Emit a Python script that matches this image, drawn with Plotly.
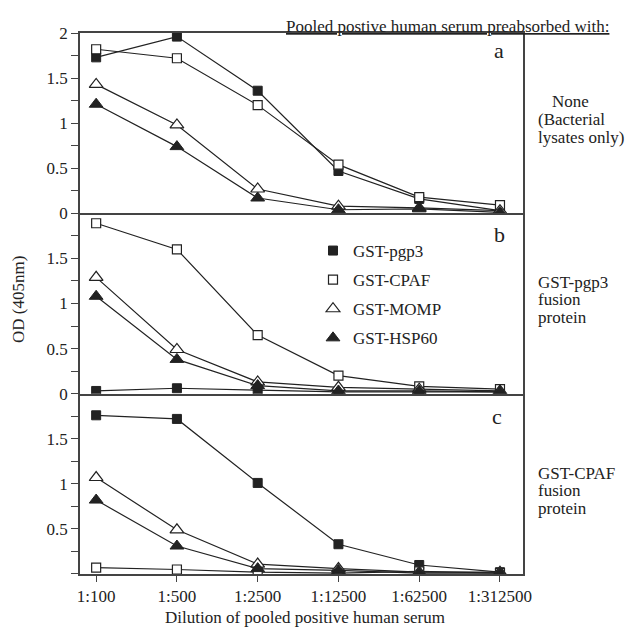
import plotly.graph_objects as go
from plotly.subplots import make_subplots

dilutions = ["1:100", "1:500", "1:2500", "1:12500", "1:62500", "1:312500"]
series_names = ["GST-pgp3", "GST-CPAF", "GST-MOMP", "GST-HSP60"]

# Panel a: none (bacterial lysates only)
a_pgp3 = [1.73, 1.96, 1.36, 0.47, 0.16, 0.03]
a_cpaf = [1.82, 1.72, 1.20, 0.54, 0.18, 0.09]
a_momp = [1.43, 0.98, 0.27, 0.08, 0.06, 0.03]
a_hsp60 = [1.21, 0.74, 0.17, 0.04, 0.05, 0.01]

# Panel b: GST-pgp3 fusion protein
b_pgp3 = [0.03, 0.06, 0.04, 0.02, 0.02, 0.02]
b_cpaf = [1.89, 1.60, 0.65, 0.20, 0.08, 0.05]
b_momp = [1.29, 0.49, 0.13, 0.07, 0.05, 0.03]
b_hsp60 = [1.08, 0.38, 0.09, 0.03, 0.03, 0.02]

# Panel c: GST-CPAF fusion protein
c_pgp3 = [1.76, 1.72, 1.01, 0.33, 0.10, 0.02]
c_cpaf = [0.07, 0.05, 0.02, 0.01, 0.03, 0.01]
c_momp = [1.07, 0.49, 0.11, 0.06, 0.02, 0.02]
c_hsp60 = [0.82, 0.31, 0.06, 0.04, 0.01, 0.01]

panels = [
    [a_pgp3, a_cpaf, a_momp, a_hsp60],
    [b_pgp3, b_cpaf, b_momp, b_hsp60],
    [c_pgp3, c_cpaf, c_momp, c_hsp60],
]

FONT = "Liberation Serif"
INK = "#222222"
AX = "#444444"

styles = [
    dict(symbol="square", size=9, color=INK, line=dict(color=INK, width=1)),
    dict(symbol="square", size=9, color="white", line=dict(color=INK, width=1.2)),
    dict(symbol="triangle-up", size=12, color="white", line=dict(color=INK, width=1.2)),
    dict(symbol="triangle-up", size=12, color=INK, line=dict(color=INK, width=1)),
]

fig = make_subplots(rows=3, cols=1, shared_xaxes=True, vertical_spacing=0)

for r, data in enumerate(panels, start=1):
    for name, vals, st in zip(series_names, data, styles):
        fig.add_trace(go.Scatter(
            x=dilutions, y=vals, mode="lines+markers", name=name,
            line=dict(color=INK, width=1.2), marker=st, showlegend=False,
        ), row=r, col=1)

# legend-only entries (markers without lines)
for i, (name, st) in enumerate(zip(series_names, styles)):
    fig.add_trace(go.Scatter(x=[None], y=[None], mode="markers", name=name,
                             marker=st, showlegend=True, legendgroup=f"g{i}"),
                  row=2, col=1)

tick_vals = [0, 0.25, 0.5, 0.75, 1, 1.25, 1.5, 1.75, 2]
tick_text = [
    ["0", "", "0.5", "", "1", "", "1.5", "", "2"],
    ["0", "", "0.5", "", "1", "", "1.5", "", ""],
    ["", "", "0.5", "", "1", "", "1.5", "", ""],
]

for r in range(1, 4):
    fig.update_yaxes(range=[0, 2], tickvals=tick_vals, ticktext=tick_text[r - 1],
                     ticks="outside", ticklen=7, tickcolor=AX, tickwidth=1.2,
                     showline=True, linecolor=AX, linewidth=1.5, mirror=True,
                     showgrid=False, zeroline=False,
                     tickfont=dict(family=FONT, size=17, color=INK), row=r, col=1)
    fig.update_xaxes(range=[-0.2, 5.285], showline=True, linecolor=AX, linewidth=1.5,
                     mirror=(r == 1), showgrid=False, zeroline=False,
                     ticks="outside" if r == 3 else "", ticklen=6, tickcolor=AX,
                     tickwidth=1.2, showticklabels=(r == 3),
                     tickfont=dict(family=FONT, size=17, color=INK), row=r, col=1)

L, R, T, B = 80, 103, 33, 54
W, H = 626, 628
pw, ph = W - L - R, H - T - B

def px(x):
    return (x - L) / pw

def py(y):
    return (H - B - y) / ph

ann = []
def text(s, x, y, size=17, xanchor="left", **kw):
    ann.append(dict(text=s, x=px(x), y=py(y), xref="paper", yref="paper",
                    xanchor=xanchor, yanchor="middle", showarrow=False,
                    font=dict(family=FONT, size=size, color=INK), **kw))

text("<u>Pooled postive human serum preabsorbed with:</u>", 611, 26, size=17, xanchor="right")
text("a", 499, 51, size=22, xanchor="center")
text("b", 499, 234, size=22, xanchor="center")
text("c", 497, 416, size=22, xanchor="center")

text("None", 570, 102, size=17, xanchor="center")
text("(Bacterial", 536, 119.5, size=17)
text("lysates only)", 536, 137, size=17)

text("GST-pgp3", 536, 282, size=17)
text("fusion", 536, 299.5, size=17)
text("protein", 536, 317, size=17)

text("GST-CPAF", 536, 473, size=17)
text("fusion", 536, 490.5, size=17)
text("protein", 536, 508, size=17)

text("Dilution of pooled positive human serum", 305, 617, size=17, xanchor="center")
text("OD (405nm)", 18, 300, size=17, xanchor="center", textangle=-90)

fig.update_layout(
    width=W, height=H,
    margin=dict(l=L, r=R, t=T, b=B),
    paper_bgcolor="white", plot_bgcolor="white",
    font=dict(family=FONT, size=17, color=INK),
    annotations=ann,
    legend=dict(x=px(313), y=py(233), xanchor="left", yanchor="top",
                bgcolor="rgba(0,0,0,0)", font=dict(family=FONT, size=17, color=INK),
                tracegroupgap=4),
)

fig.write_html("out.html", config={"displayModeBar": False},
               post_script="document.body.style.margin='0';")
